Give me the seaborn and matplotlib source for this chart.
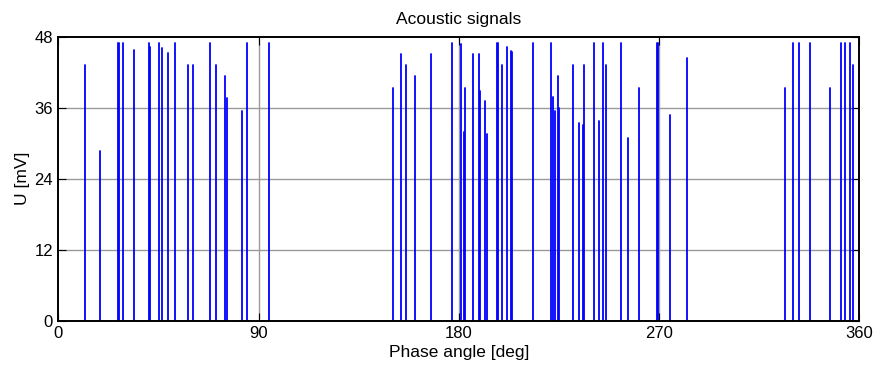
import matplotlib
matplotlib.use("Agg")
import matplotlib.pyplot as plt
import seaborn as sns
import seaborn.objects as so
import pandas as pd

phase = [11.9, 18.5, 26.6, 27.2, 29.0, 33.8, 40.6, 41.0, 45.1, 46.4, 49.3, 52.6,
         58.1, 60.5, 68.2, 70.8, 74.7, 75.7, 82.4, 84.6, 94.7,
         150.4, 154.0, 156.5, 160.4, 167.6, 176.9,
         181.0, 182.2, 182.9, 186.2, 189.1, 189.7, 191.6, 192.5, 197.2, 197.8,
         199.3, 201.5, 203.5, 204.1, 213.4, 221.5, 222.2, 223.4, 224.8, 225.3,
         231.6, 234.2, 235.9, 236.4, 241.0, 243.2, 245.0, 246.4, 253.0, 255.9,
         261.2, 269.2, 269.6,
         275.1, 282.7, 326.8, 330.1, 333.1, 338.1, 346.8, 351.7, 353.7, 355.8, 357.3]
amplitude = [43.2, 28.7, 47, 47, 47, 45.8, 47, 46.3, 47, 46.1, 45.2, 47,
             43.2, 43.2, 47, 43.2, 41.3, 37.6, 35.5, 47, 47,
             39.3, 45.1, 43.2, 41.4, 45.1, 47,
             46.7, 31.9, 39.3, 45.1, 45.1, 38.8, 37.2, 31.6, 47, 47,
             43.2, 46.3, 45.5, 45.4, 47, 47, 37.8, 35.5, 41.3, 36.0,
             43.2, 33.4, 33.0, 43.2, 47, 33.8, 47, 43.2, 47, 30.9,
             39.3, 47, 47,
             34.8, 44.4, 39.3, 47, 47, 47, 39.3, 47, 47, 47, 43.2]
x_ticks = [0, 90, 180, 270, 360]
y_ticks = [0, 12, 24, 36, 48]

df = pd.DataFrame({"phase": phase, "amp": amplitude})
df["base"] = 0.0

sns.set_theme(style="white")
plt.rcParams["font.family"] = ["Liberation Sans", "DejaVu Sans"]

fig = plt.figure(figsize=(8.75, 3.65), dpi=100)
ax = fig.add_axes([58.5 / 875, 1 - 320.7 / 365, (859 - 58.5) / 875, (320.7 - 36.7) / 365])

(
    so.Plot(df, x="phase", ymin="base", ymax="amp")
    .add(so.Range(color="#0000ff", linewidth=1.3))
    .on(ax)
    .plot()
)

ax.set_xlim(0, 360)
ax.set_ylim(0, 48)
ax.set_xticks(x_ticks, [str(v) for v in x_ticks])
ax.set_yticks(y_ticks, [str(v) for v in y_ticks])

for v in [90, 180, 270]:
    ax.axvline(v, color="#9a9a9a", lw=1.0, zorder=0.5)
for v in [12, 24, 36]:
    ax.axhline(v, color="#9a9a9a", lw=1.0, zorder=0.5)

ax.tick_params(axis="both", which="both", direction="in", length=6, width=0.8,
               top=True, right=True, bottom=True, left=True,
               labelsize=12, colors="black", pad=4)
for s in ax.spines.values():
    s.set_visible(True)
    s.set_color("black")
    s.set_linewidth(1.4)

ax.set_title("Acoustic signals", fontsize=12.5, pad=9, color="black")
ax.set_xlabel("Phase angle [deg]", fontsize=12.5, labelpad=3, color="black")
ax.set_ylabel("U [mV]", fontsize=12.5, labelpad=3, color="black")
ax.set_facecolor("white")
fig.patch.set_facecolor("white")

fig.savefig("out.png", dpi=100, facecolor="white")
